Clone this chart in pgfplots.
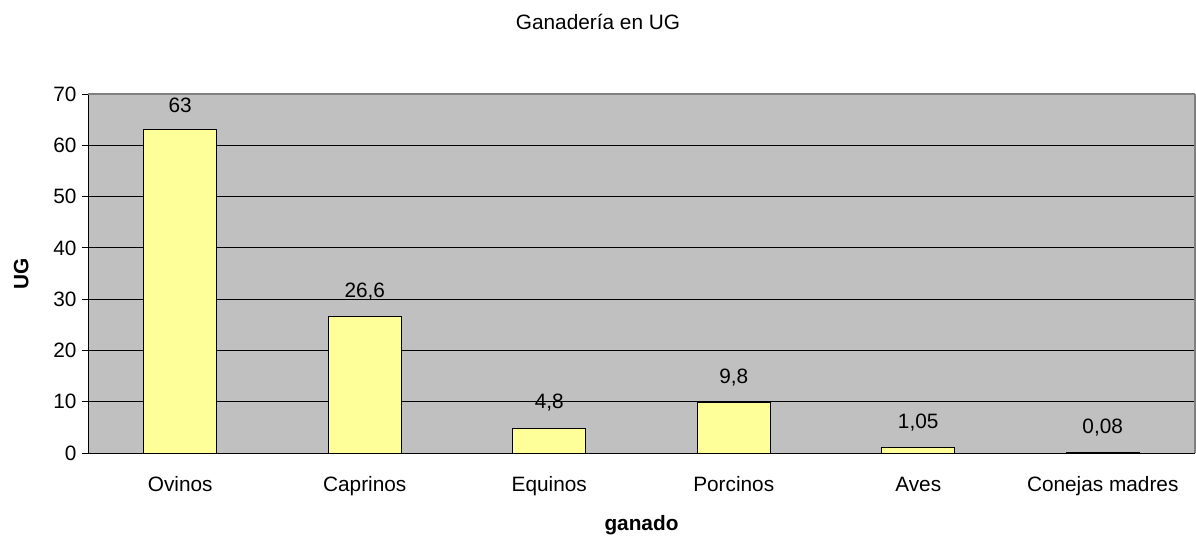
\documentclass[border=0pt]{standalone}
\usepackage{pgfplots}
\pgfplotsset{compat=1.18}
\usepackage{fontspec}
\setmainfont{Liberation Sans}
\definecolor{plotbg}{HTML}{C0C0C0}
\definecolor{barfill}{HTML}{FFFF99}
\definecolor{edgegray}{HTML}{808080}
\newcommand{\fsz}{\fontsize{20.8}{24}\selectfont}
\begin{document}
\begin{tikzpicture}
\path[use as bounding box] (0pt,0pt) rectangle (1196pt,538pt);
\node[font=\fsz] at (598pt,516pt) {Ganadería en UG};
\begin{axis}[
    at={(88pt,85pt)}, anchor=south west,
    scale only axis,
    width=1107pt, height=359pt,
    axis lines*=left,
    axis line style={black, line width=0.9pt},
    axis background/.style={fill=plotbg},
    ybar, bar width=73pt,
    xmin=-0.5, xmax=5.5,
    ymin=0, ymax=70,
    xtick={0,1,2,3,4,5},
    xticklabels={Ovinos, Caprinos, Equinos, Porcinos, Aves, Conejas madres},
    x tick style={draw=none},
    xticklabel style={yshift=-14pt, text height=15pt, text depth=4pt},
    extra x ticks={0.5,1.5,2.5,3.5,4.5,5.5},
    extra x tick labels={},
    extra x tick style={tick style={draw=black, line width=0.8pt}, major tick length=6pt, grid=none},
    ytick={0,10,...,70},
    y tick style={black, line width=0.8pt},
    yticklabel style={xshift=-2pt},
    tick align=outside,
    major tick length=6pt,
    ymajorgrids,
    grid style={black, line width=0.9pt},
    tick label style={font=\fsz},
    /pgf/number format/assume math mode=true,
    /pgf/number format/fixed,
    /pgf/number format/precision=2,
    /pgf/number format/use comma,
    xlabel={ganado}, ylabel={UG},
    label style={font=\fsz\bfseries},
    xlabel style={yshift=-1pt},
    ylabel style={yshift=18pt},
    nodes near coords,
    nodes near coords style={font=\fsz, yshift=13pt},
    after end axis/.code={
        \draw[edgegray, line width=1.6pt] (rel axis cs:0,1) -- (rel axis cs:1,1);
        \draw[edgegray, line width=1.2pt] (rel axis cs:1,1) -- (rel axis cs:1,0);
    },
]
\addplot[fill=barfill, draw=black, line width=0.9pt] coordinates {
    (0,63) (1,26.6) (2,4.8) (3,9.8) (4,1.05) (5,0.08)
};
\end{axis}
\end{tikzpicture}
\end{document}
